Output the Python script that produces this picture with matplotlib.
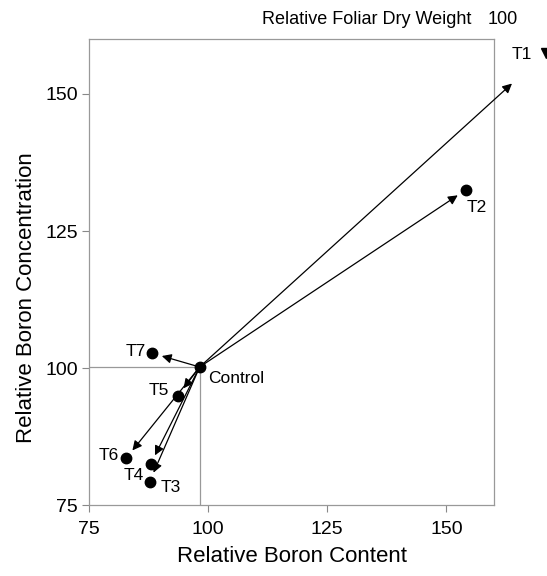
import matplotlib
matplotlib.use("Agg")
import matplotlib.pyplot as plt

plt.rcParams['font.family'] = ['Liberation Sans', 'DejaVu Sans']

# values
treatments = ['Control', 'T1', 'T2', 'T3', 'T4', 'T5', 'T6', 'T7']
boron_content = [98.2, 165.3, 154.1, 87.7, 87.9, 93.6, 82.8, 88.3]
boron_conc = [100.2, 153.1, 132.5, 79.3, 82.5, 94.9, 83.6, 102.7]

x_ticks = [75, 100, 125, 150]
y_ticks = [75, 100, 125, 150]
axis_min = 75
axis_max = 160

# label offsets in points (dx, dy, ha)
label_pos = {
    'Control': (6, -8, 'left'),
    'T1': (2, 16, 'center'),
    'T2': (8, -13, 'center'),
    'T3': (8, -4, 'left'),
    'T4': (-5, -8, 'right'),
    'T5': (-6, 4, 'right'),
    'T6': (-5, 2, 'right'),
    'T7': (-5, 1, 'right'),
}

fig = plt.figure(figsize=(5.47, 5.76), dpi=100)
ax = fig.add_axes([0.163, 0.123, 0.740, 0.809])

cx, cy = boron_content[0], boron_conc[0]

# reference lines through the control
ax.plot([axis_min, cx], [cy, cy], color='#999999', lw=0.9, zorder=1)
ax.plot([cx, cx], [axis_min, cy], color='#999999', lw=0.9, zorder=1)

# arrows from the control to each treatment
for name, x, y in zip(treatments[1:], boron_content[1:], boron_conc[1:]):
    ax.annotate('', xy=(x, y), xytext=(cx, cy), annotation_clip=False,
                arrowprops=dict(arrowstyle='-|>', color='black', lw=0.9,
                                mutation_scale=14, shrinkA=0, shrinkB=7))

ax.plot(boron_content, boron_conc, 'o', color='black', markersize=7.5, zorder=3)

for name, x, y in zip(treatments, boron_content, boron_conc):
    dx, dy, ha = label_pos[name]
    ax.annotate(name, xy=(x, y), xytext=(dx, dy), textcoords='offset points',
                ha=ha, va='center', fontsize=12.5, annotation_clip=False)

ax.set_xlim(axis_min, axis_max)
ax.set_ylim(axis_min, axis_max)
ax.set_xticks(x_ticks)
ax.set_yticks(y_ticks)
ax.tick_params(direction='out', length=5, width=0.8, color='#888888',
               labelsize=14)
ax.tick_params(axis='x', pad=6.5)
ax.tick_params(axis='y', pad=3)
for s in ax.spines.values():
    s.set_color('#999999')
    s.set_linewidth(0.9)

ax.set_xlabel('Relative Boron Content', fontsize=16, labelpad=6)
ax.set_ylabel('Relative Boron Concentration', fontsize=16)
ax.yaxis.set_label_coords(-0.13, 0.446)

# diagonal dry weight axis note at the top right (arrow head cut by the edge)
fig.text(0.479, 0.967, 'Relative Foliar Dry Weight', fontsize=13, va='center')
fig.text(0.892, 0.967, '100', fontsize=13, va='center')
ax.plot([171], [157.5], marker='v', color='black', markersize=7, clip_on=False)

fig.savefig('out.png', dpi=100)
